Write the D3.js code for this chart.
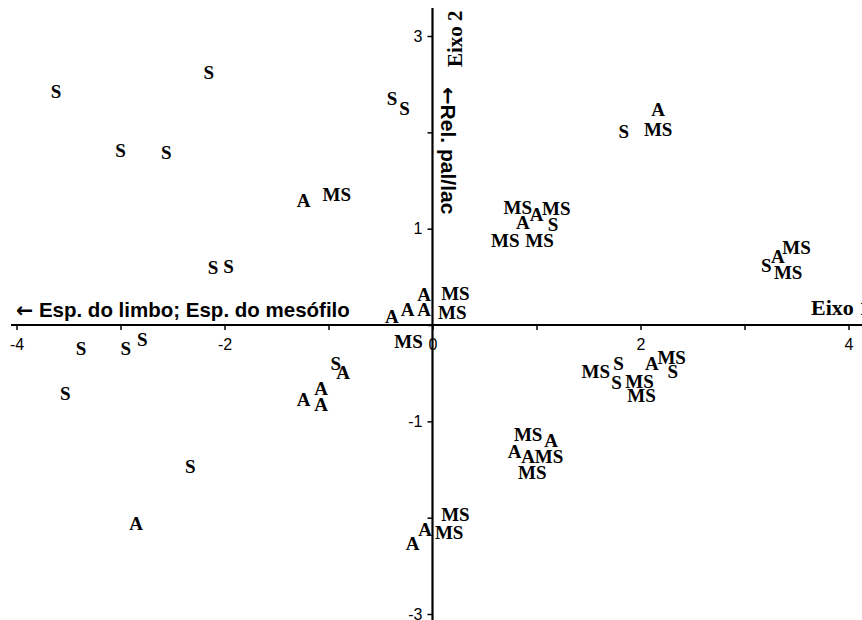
<!DOCTYPE html>
<html>
<head>
<meta charset="utf-8">
<script src="https://cdn.jsdelivr.net/npm/d3@7"></script>
<style>
	body { margin: 0; background: #fff; }
	svg { display: block; }
	.tick text { font-family: "Liberation Sans", Arial, sans-serif; font-size: 16px; fill: #000; }
	.pt { font-family: "Liberation Serif", "Times New Roman", serif; font-weight: bold; font-size: 19px; fill: #000; }
	.arrow { font-family: "DejaVu Sans", sans-serif; font-weight: bold; }
</style>
</head>
<body>
<svg id="chart" width="862" height="620"></svg>
<script>

// scores on axis 1 / axis 2
var sX  = [-3.62, -2.15, -3.00, -2.56, -2.11, -1.96, -3.38, -2.95, -2.79, -3.53, -2.33, -0.39, -0.27, -0.93, 1.84, 1.16, 3.21, 1.79, 2.31, 1.77];
var sY  = [ 2.42,  2.62,  1.81,  1.79,  0.59,  0.60, -0.25, -0.25, -0.15, -0.71, -1.47,  2.35,  2.25, -0.40, 2.01, 1.04, 0.62, -0.40, -0.49, -0.60];

var aX  = [-1.24, 2.17, 1.00, 0.87, -0.08, -0.39, -0.24, -0.08, -0.86, -1.07, -1.24, -1.07, 3.32, 2.11, 1.14, 0.79, 0.92, -0.07, -0.19, -2.85];
var aY  = [ 1.29, 2.23, 1.14, 1.06,  0.31,  0.09,  0.16,  0.16, -0.50, -0.66, -0.78, -0.83, 0.71, -0.40, -1.20, -1.32, -1.37, -2.13, -2.27, -2.06];

var msX = [-0.92, 2.17, 0.82, 1.19, 0.70, 1.03, 0.22, 0.19, -0.23, 3.50, 3.42, 2.30, 1.57, 1.99, 2.01, 0.92, 1.12, 0.96, 0.22, 0.16];
var msY = [ 1.35, 2.03, 1.22, 1.21, 0.87, 0.87, 0.32, 0.13, -0.17, 0.80, 0.54, -0.34, -0.49, -0.59, -0.73, -1.14, -1.37, -1.53, -1.97, -2.16];

var xTicks = [-4, -3, -2, -1, 0, 1, 2, 3, 4];
var yTicks = [-3, -2, -1, 0, 1, 2, 3];
var xLabels = [-4, -2, 0, 2, 4];
var yLabels = [-3, -1, 1, 3];

var svg = d3.select("#chart");

var x = d3.scaleLinear().domain([-4, 4]).range([16.5, 848.5]);
var y = d3.scaleLinear().domain([-3, 3]).range([614, 36]);

var x0 = x(0), y0 = y(0);

// axes
var xAxis = d3.axisBottom(x)
	.tickValues(xTicks)
	.tickSize(5)
	.tickFormat(function(d) { return xLabels.indexOf(d) >= 0 ? d : ""; });

var yAxis = d3.axisLeft(y)
	.tickValues(yTicks)
	.tickSize(5)
	.tickFormat(function(d) { return yLabels.indexOf(d) >= 0 ? d : ""; });

var gx = svg.append("g")
	.attr("transform", "translate(0," + y0 + ")")
	.call(xAxis);
gx.select(".domain").remove();
gx.selectAll(".tick line").attr("stroke", "#000").attr("stroke-width", 1.5);
gx.selectAll(".tick text").attr("dy", "1.05em").attr("y", 8);

var gy = svg.append("g")
	.attr("transform", "translate(" + x0 + ",0)")
	.call(yAxis);
gy.select(".domain").remove();
gy.selectAll(".tick line").attr("stroke", "#000").attr("stroke-width", 1.5);
gy.selectAll(".tick text").attr("x", -10);

svg.append("line")
	.attr("x1", 11).attr("x2", 862)
	.attr("y1", y0).attr("y2", y0)
	.attr("stroke", "#000")
	.attr("stroke-width", 2.2);

svg.append("line")
	.attr("x1", x0).attr("x2", x0)
	.attr("y1", 8).attr("y2", 620)
	.attr("stroke", "#000")
	.attr("stroke-width", 2.2);

// axis names
var t1 = svg.append("text")
	.attr("x", 16)
	.attr("y", 317)
	.style("font-family", "'Liberation Sans', Arial, sans-serif")
	.style("font-weight", "bold")
	.style("font-size", "20.5px");
t1.append("tspan").attr("class", "arrow").text("\u2190");
t1.append("tspan").text(" Esp. do limbo; Esp. do mesófilo");

svg.append("text")
	.attr("x", 811)
	.attr("y", 315)
	.style("font-family", "'Liberation Serif', 'Times New Roman', serif")
	.style("font-weight", "bold")
	.style("font-size", "22px")
	.text("Eixo 1");

svg.append("text")
	.attr("transform", "translate(462,67) rotate(-90)")
	.style("font-family", "'Liberation Serif', 'Times New Roman', serif")
	.style("font-weight", "bold")
	.style("font-size", "21px")
	.text("Eixo 2");

var t2 = svg.append("text")
	.attr("transform", "translate(441,87) rotate(90)")
	.style("font-family", "'Liberation Sans', Arial, sans-serif")
	.style("font-weight", "bold")
	.style("font-size", "21px");
t2.append("tspan").attr("class", "arrow").text("\u2190");
t2.append("tspan").text("Rel. pal/lac");

// point labels
var groups = [
	{ name: "S",  xs: sX,  ys: sY },
	{ name: "A",  xs: aX,  ys: aY },
	{ name: "MS", xs: msX, ys: msY }
];

groups.forEach(function(g) {
	svg.selectAll(".pt-" + g.name)
			.data(g.xs.map(function(v, i) { return [v, g.ys[i]]; }))
		.enter().append("text")
			.attr("class", "pt pt-" + g.name)
			.attr("x", function(d) { return x(d[0]); })
			.attr("y", function(d) { return y(d[1]); })
			.attr("dy", "0.33em")
			.attr("text-anchor", "middle")
			.text(g.name);
});

</script>
</body>
</html>
